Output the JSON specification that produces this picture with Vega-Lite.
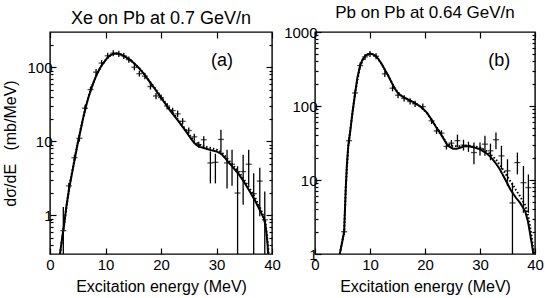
{
  "$schema": "https://vega.github.io/schema/vega-lite/v6.json",
  "padding": {"left": 2, "top": 3, "right": 2, "bottom": 0},
  "background": "white",
  "spacing": 0,
  "config": {
    "font": "Liberation Sans",
    "view": {"stroke": "black", "strokeWidth": 1.4},
    "axis": {"labelFont": "Liberation Sans", "labelFontSize": 15, "titleFont": "Liberation Sans", "titleFontSize": 16, "titleFontWeight": "normal", "labelColor": "black", "titleColor": "black", "tickColor": "black", "tickWidth": 1.2, "grid": false, "domain": false, "labelFlush": false, "labelOverlap": false},
    "title": {"font": "Liberation Sans", "fontSize": 18, "fontWeight": "normal", "color": "black", "offset": 3}
  },
  "datasets": {
    "curveA": [
      {"E":1.8,"v":0.3},{"E":2.2,"v":0.5},{"E":2.5,"v":0.7},{"E":3.0,"v":1.4},{"E":3.5,"v":2.4},{"E":4.0,"v":3.8},{"E":4.5,"v":6.0},{"E":5.0,"v":9.5},{"E":5.5,"v":14},{"E":6.0,"v":21},{"E":6.5,"v":30},{"E":7.0,"v":41},{"E":7.5,"v":53},{"E":8.0,"v":67},{"E":8.5,"v":82},{"E":9.0,"v":97},{"E":9.5,"v":111},{"E":10.0,"v":125},{"E":10.5,"v":138},{"E":11.0,"v":147},{"E":11.5,"v":153},{"E":12.0,"v":154},{"E":12.5,"v":151},{"E":13.0,"v":146},{"E":13.5,"v":139},{"E":14.0,"v":132},{"E":14.5,"v":124},{"E":15.0,"v":116},{"E":15.5,"v":107},{"E":16.0,"v":98},{"E":16.5,"v":89},{"E":17.0,"v":80},{"E":17.5,"v":71},{"E":18.0,"v":63},{"E":18.5,"v":56},{"E":19.0,"v":50},{"E":19.5,"v":44},{"E":20.0,"v":39},{"E":20.5,"v":34.5},{"E":21.0,"v":30.5},{"E":21.5,"v":27},{"E":22.0,"v":24},{"E":22.5,"v":21.5},{"E":23.0,"v":19.3},{"E":23.5,"v":17.2},{"E":24.0,"v":15.3},{"E":24.5,"v":13.6},{"E":25.0,"v":12},{"E":25.5,"v":10.6},{"E":26.0,"v":9.5},{"E":26.5,"v":8.8},{"E":27.0,"v":8.4},{"E":28.0,"v":8.0},{"E":29.0,"v":7.6},{"E":30.0,"v":7.3},{"E":30.5,"v":7.0},{"E":31.0,"v":6.6},{"E":31.5,"v":6.0},{"E":32.0,"v":5.4},{"E":32.5,"v":4.9},{"E":33.0,"v":4.4},{"E":33.5,"v":4.0},{"E":34.0,"v":3.6},{"E":35.0,"v":2.8},{"E":36.0,"v":2.1},{"E":37.0,"v":1.55},{"E":37.5,"v":1.3},{"E":38.0,"v":1.1},{"E":38.5,"v":0.92},{"E":38.8,"v":0.75},{"E":39.0,"v":0.58},{"E":39.2,"v":0.4},{"E":39.3,"v":0.3}
    ],
    "dotA": [
      {"E":1.8,"v":0.3},{"E":2.5,"v":0.72},{"E":3.5,"v":2.5},{"E":4.5,"v":6.2},{"E":5.5,"v":14.5},{"E":6.5,"v":31},{"E":7.5,"v":54},{"E":8.5,"v":83},{"E":9.5,"v":112},{"E":10.5,"v":139},{"E":11.5,"v":154},{"E":12.0,"v":155},{"E":13.0,"v":147},{"E":14.0,"v":133},{"E":15.0,"v":117},{"E":16.0,"v":99},{"E":17.0,"v":81},{"E":18.0,"v":64},{"E":19.0,"v":51},{"E":20.0,"v":40},{"E":21.0,"v":31.5},{"E":22.0,"v":25},{"E":23.0,"v":20},{"E":24.0,"v":16},{"E":25.0,"v":12.6},{"E":26.0,"v":10},{"E":27.0,"v":8.9},{"E":28.0,"v":8.5},{"E":29.0,"v":8.1},{"E":30.0,"v":7.7},{"E":31.0,"v":7.0},{"E":32.0,"v":5.8},{"E":33.0,"v":4.7},{"E":34.0,"v":3.9},{"E":35.0,"v":3.0},{"E":36.0,"v":2.3},{"E":37.0,"v":1.7},{"E":38.0,"v":1.2},{"E":38.8,"v":0.82},{"E":39.2,"v":0.45},{"E":39.4,"v":0.3}
    ],
    "ptsA": [
      {"E":2.4,"v":0.62,"lo":0.3,"hi":1.3},{"E":3.4,"v":2.5,"lo":2.25,"hi":2.75},{"E":4.4,"v":6.0,"lo":5.4,"hi":6.6},{"E":5.3,"v":11,"lo":9.9,"hi":12.1},{"E":6.3,"v":28,"lo":25.5,"hi":30.8},{"E":7.3,"v":50,"lo":45.5,"hi":55},{"E":8.3,"v":86,"lo":78,"hi":95},{"E":9.3,"v":114,"lo":104,"hi":125},{"E":10.4,"v":143,"lo":130,"hi":157},{"E":11.4,"v":155,"lo":141,"hi":170},{"E":12.4,"v":152,"lo":138,"hi":167},{"E":13.3,"v":143,"lo":130,"hi":157},{"E":14.2,"v":127,"lo":115,"hi":140},{"E":15.2,"v":100,"lo":91,"hi":110},{"E":16.1,"v":82,"lo":75,"hi":90},{"E":17.1,"v":76,"lo":69,"hi":84},{"E":18.1,"v":55,"lo":50,"hi":61},{"E":19.1,"v":41,"lo":37,"hi":45},{"E":20.0,"v":39,"lo":35.5,"hi":43},{"E":21.1,"v":30,"lo":27,"hi":33},{"E":22.1,"v":26,"lo":23.5,"hi":28.5},{"E":23.0,"v":23.5,"lo":21.3,"hi":26},{"E":23.9,"v":18.6,"lo":17,"hi":20.5},{"E":25.0,"v":14.0,"lo":12.7,"hi":15.4},{"E":26.0,"v":11.5,"lo":10.4,"hi":12.7},{"E":26.8,"v":9.0,"lo":8.2,"hi":9.9},{"E":27.7,"v":10.5,"lo":8.1,"hi":11.7},{"E":28.9,"v":5.1,"lo":2.7,"hi":7.3},{"E":29.8,"v":5.2,"lo":2.7,"hi":6.8},{"E":30.8,"v":10.6,"lo":6.8,"hi":14.3},{"E":31.9,"v":5.1,"lo":2.3,"hi":7.7},{"E":32.8,"v":4.9,"lo":2.5,"hi":7.7},{"E":33.8,"v":2.0,"lo":0.3,"hi":4.6},{"E":34.8,"v":3.9,"lo":1.39,"hi":6.6},{"E":35.8,"v":4.9,"lo":2.5,"hi":7.7},{"E":36.7,"v":1.96,"lo":0.3,"hi":3.7},{"E":37.8,"v":2.9,"lo":0.97,"hi":4.4},{"E":38.7,"v":0.87,"lo":0.3,"hi":2.1}
    ],
    "curveB": [
      {"E":4.5,"v":1.0},{"E":4.9,"v":1.4},{"E":5.3,"v":2.0},{"E":5.45,"v":4.0},{"E":5.6,"v":8},{"E":5.8,"v":16},{"E":6.05,"v":29},{"E":6.4,"v":45},{"E":6.8,"v":80},{"E":7.3,"v":150},{"E":7.7,"v":240},{"E":8.2,"v":350},{"E":8.6,"v":420},{"E":9.1,"v":470},{"E":9.6,"v":500},{"E":10.0,"v":510},{"E":10.5,"v":500},{"E":11.0,"v":478},{"E":11.5,"v":435},{"E":12.1,"v":372},{"E":12.7,"v":310},{"E":13.3,"v":258},{"E":13.9,"v":210},{"E":14.5,"v":172},{"E":15.0,"v":152},{"E":15.5,"v":141},{"E":16.0,"v":133},{"E":17.0,"v":121},{"E":18.0,"v":112},{"E":19.0,"v":100},{"E":19.5,"v":94},{"E":20.3,"v":82},{"E":21.0,"v":69},{"E":21.5,"v":60},{"E":22.0,"v":52},{"E":22.7,"v":44},{"E":23.3,"v":37},{"E":23.9,"v":31},{"E":24.5,"v":28},{"E":25.1,"v":26.5},{"E":25.8,"v":26.5},{"E":26.5,"v":27.5},{"E":27.2,"v":28.5},{"E":28.0,"v":28.5},{"E":29.0,"v":27.5},{"E":30.0,"v":26},{"E":31.0,"v":23.5},{"E":31.8,"v":21},{"E":32.7,"v":17.5},{"E":33.6,"v":14},{"E":34.5,"v":10.5},{"E":35.5,"v":7.5},{"E":36.5,"v":5.8},{"E":37.3,"v":4.9},{"E":38.2,"v":3.8},{"E":38.7,"v":2.8},{"E":39.1,"v":1.9},{"E":39.4,"v":1.4},{"E":39.7,"v":1.0}
    ],
    "dotB": [
      {"E":4.5,"v":1.0},{"E":5.3,"v":2.0},{"E":5.6,"v":8},{"E":6.05,"v":29},{"E":6.8,"v":80},{"E":7.3,"v":150},{"E":8.2,"v":350},{"E":9.1,"v":470},{"E":10.0,"v":510},{"E":11.0,"v":478},{"E":12.1,"v":372},{"E":13.3,"v":258},{"E":14.5,"v":172},{"E":15.5,"v":141},{"E":17.0,"v":121},{"E":19.0,"v":100},{"E":20.3,"v":82},{"E":21.5,"v":60},{"E":22.7,"v":44},{"E":23.9,"v":32},{"E":24.8,"v":29},{"E":26.0,"v":28.5},{"E":27.0,"v":29},{"E":28.0,"v":29},{"E":29.0,"v":28.5},{"E":30.0,"v":27.5},{"E":31.0,"v":25},{"E":32.0,"v":22},{"E":33.0,"v":18.5},{"E":34.0,"v":14.5},{"E":35.0,"v":11},{"E":35.8,"v":9},{"E":36.5,"v":7.4},{"E":37.3,"v":6.0},{"E":38.2,"v":4.6},{"E":38.8,"v":3.2},{"E":39.3,"v":1.9},{"E":39.7,"v":1.15},{"E":39.9,"v":1.0}
    ],
    "ptsB": [
      {"E":5.3,"v":2.0,"lo":1.8,"hi":2.2},{"E":6.2,"v":34,"lo":31,"hi":37.5},{"E":7.3,"v":150,"lo":136,"hi":165},{"E":8.2,"v":352,"lo":320,"hi":387},{"E":9.1,"v":460,"lo":418,"hi":506},{"E":10.0,"v":505,"lo":459,"hi":555},{"E":11.1,"v":470,"lo":427,"hi":517},{"E":12.7,"v":272,"lo":247,"hi":300},{"E":14.1,"v":174,"lo":158,"hi":191},{"E":15.1,"v":140,"lo":127,"hi":154},{"E":16.2,"v":127,"lo":115,"hi":140},{"E":17.3,"v":115,"lo":105,"hi":127},{"E":18.2,"v":107,"lo":97,"hi":118},{"E":19.6,"v":98,"lo":89,"hi":108},{"E":21.2,"v":63,"lo":57,"hi":69},{"E":22.1,"v":46,"lo":42,"hi":51},{"E":23.0,"v":43,"lo":39,"hi":47},{"E":23.9,"v":28.4,"lo":25.8,"hi":31.2},{"E":24.8,"v":31.5,"lo":28.6,"hi":34.7},{"E":25.9,"v":34,"lo":28,"hi":41},{"E":27.0,"v":29.6,"lo":25,"hi":35},{"E":27.9,"v":28.4,"lo":24,"hi":33},{"E":28.9,"v":23.5,"lo":16.3,"hi":32},{"E":30.0,"v":26.7,"lo":21.5,"hi":32},{"E":30.9,"v":30.5,"lo":21.2,"hi":39.6},{"E":31.9,"v":24.8,"lo":18.5,"hi":31},{"E":32.9,"v":35,"lo":26,"hi":44},{"E":33.9,"v":21.2,"lo":14,"hi":29},{"E":35.0,"v":13.3,"lo":8.3,"hi":19.1},{"E":35.9,"v":4.9,"lo":1.0,"hi":9.2},{"E":36.8,"v":17.2,"lo":11.9,"hi":23.5},{"E":37.9,"v":9.2,"lo":3.6,"hi":15.5},{"E":38.8,"v":7.9,"lo":3.6,"hi":11.9}
    ],
    "labA": [{"E":31,"v":122,"t":"(a)"}],
    "labB": [{"E":33.5,"v":404,"t":"(b)"}]
  },
  "hconcat": [
    {
      "width": 222, "height": 222,
      "title": {"text": "Xe on Pb at 0.7 GeV/n"},
      "resolve": {"axis": {"x": "independent", "y": "independent"}},
      "layer": [
        {
          "data": {"name": "curveA"},
          "mark": {"type": "line", "color": "black", "strokeWidth": 2, "clip": true},
          "encoding": {
            "x": {"field": "E", "type": "quantitative", "scale": {"domain": [0, 40], "nice": false, "zero": false},
                  "axis": {"orient": "bottom", "values": [0, 10, 20, 30, 40], "tickSize": -6, "labelPadding": 9, "title": "Excitation energy (MeV)", "titlePadding": 6}},
            "y": {"field": "v", "type": "quantitative", "scale": {"type": "log", "domain": [0.3, 300], "nice": false},
                  "axis": {"orient": "left", "values": [0.4,0.5,0.6,0.7,0.8,0.9,1,2,3,4,5,6,7,8,9,10,20,30,40,50,60,70,80,90,100,200],
                           "labelExpr": "datum.value==1||datum.value==10||datum.value==100 ? datum.value+'' : ''",
                           "tickSize": {"condition": {"test": "datum.value==1||datum.value==10||datum.value==100", "value": -6}, "value": -3},
                           "labelPadding": 4, "title": "dσ/dE\u00a0\u00a0\u00a0(mb/MeV)", "titlePadding": 8}}
          }
        },
        {
          "data": {"name": "dotA"},
          "mark": {"type": "line", "color": "black", "strokeWidth": 2, "strokeDash": [1.5, 2], "clip": true},
          "encoding": {
            "x": {"field": "E", "type": "quantitative", "axis": {"orient": "top", "values": [0, 10, 20, 30, 40], "tickSize": -6, "labels": false, "title": null, "minExtent": 0}},
            "y": {"field": "v", "type": "quantitative",
                  "axis": {"orient": "right", "values": [0.4,0.5,0.6,0.7,0.8,0.9,1,2,3,4,5,6,7,8,9,10,20,30,40,50,60,70,80,90,100,200],
                           "labels": false, "title": null, "minExtent": 0,
                           "tickSize": {"condition": {"test": "datum.value==1||datum.value==10||datum.value==100", "value": -6}, "value": -3}}}
          }
        },
        {
          "data": {"name": "ptsA"},
          "mark": {"type": "rule", "color": "black", "strokeWidth": 1.3, "clip": true},
          "encoding": {
            "x": {"field": "E", "type": "quantitative", "axis": null},
            "y": {"field": "lo", "type": "quantitative", "axis": null},
            "y2": {"field": "hi"}
          }
        },
        {
          "data": {"name": "ptsA"},
          "mark": {"type": "tick", "orient": "horizontal", "color": "black", "size": 6, "thickness": 1.3},
          "encoding": {
            "x": {"field": "E", "type": "quantitative", "axis": null},
            "y": {"field": "v", "type": "quantitative", "axis": null}
          }
        },
        {
          "data": {"name": "labA"},
          "mark": {"type": "text", "fontSize": 18, "font": "Liberation Sans", "color": "black", "align": "center", "baseline": "middle"},
          "encoding": {
            "x": {"field": "E", "type": "quantitative", "axis": null},
            "y": {"field": "v", "type": "quantitative", "axis": null},
            "text": {"field": "t"}
          }
        }
      ]
    },
    {
      "width": 220, "height": 222,
      "title": {"text": "Pb on Pb at 0.64 GeV/n", "fontSize": 17},
      "resolve": {"axis": {"x": "independent", "y": "independent"}},
      "layer": [
        {
          "data": {"name": "curveB"},
          "mark": {"type": "line", "color": "black", "strokeWidth": 2, "clip": true},
          "encoding": {
            "x": {"field": "E", "type": "quantitative", "scale": {"domain": [0, 40], "nice": false, "zero": false},
                  "axis": {"orient": "bottom", "values": [0, 10, 20, 30, 40], "tickSize": -6, "labelPadding": 9, "title": "Excitation energy (MeV)", "titlePadding": 6}},
            "y": {"field": "v", "type": "quantitative", "scale": {"type": "log", "domain": [1, 1000], "nice": false},
                  "axis": {"orient": "left", "values": [1,2,3,4,5,6,7,8,9,10,20,30,40,50,60,70,80,90,100,200,300,400,500,600,700,800,900,1000],
                           "labelExpr": "datum.value==1||datum.value==10||datum.value==100||datum.value==1000 ? datum.value+'' : ''",
                           "tickSize": {"condition": {"test": "datum.value==1||datum.value==10||datum.value==100||datum.value==1000", "value": -6}, "value": -3},
                           "labelPadding": 4, "title": null}}
          }
        },
        {
          "data": {"name": "dotB"},
          "mark": {"type": "line", "color": "black", "strokeWidth": 2, "strokeDash": [1.5, 2], "clip": true},
          "encoding": {
            "x": {"field": "E", "type": "quantitative", "axis": {"orient": "top", "values": [0, 10, 20, 30, 40], "tickSize": -6, "labels": false, "title": null, "minExtent": 0}},
            "y": {"field": "v", "type": "quantitative",
                  "axis": {"orient": "right", "values": [2,3,4,5,6,7,8,9,10,20,30,40,50,60,70,80,90,100,200,300,400,500,600,700,800,900],
                           "labels": false, "title": null, "minExtent": 0,
                           "tickSize": {"condition": {"test": "datum.value==10||datum.value==100", "value": -6}, "value": -3}}}
          }
        },
        {
          "data": {"name": "ptsB"},
          "mark": {"type": "rule", "color": "black", "strokeWidth": 1.3, "clip": true},
          "encoding": {
            "x": {"field": "E", "type": "quantitative", "axis": null},
            "y": {"field": "lo", "type": "quantitative", "axis": null},
            "y2": {"field": "hi"}
          }
        },
        {
          "data": {"name": "ptsB"},
          "mark": {"type": "tick", "orient": "horizontal", "color": "black", "size": 6, "thickness": 1.3},
          "encoding": {
            "x": {"field": "E", "type": "quantitative", "axis": null},
            "y": {"field": "v", "type": "quantitative", "axis": null}
          }
        },
        {
          "data": {"name": "labB"},
          "mark": {"type": "text", "fontSize": 18, "font": "Liberation Sans", "color": "black", "align": "center", "baseline": "middle"},
          "encoding": {
            "x": {"field": "E", "type": "quantitative", "axis": null},
            "y": {"field": "v", "type": "quantitative", "axis": null},
            "text": {"field": "t"}
          }
        }
      ]
    }
  ]
}
